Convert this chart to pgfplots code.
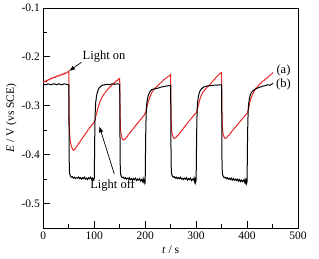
\documentclass[border=0pt]{standalone}
\usepackage{fontspec}
\setmainfont{Liberation Serif}
\usepackage{pgfplots}
\pgfplotsset{compat=1.18}
\usetikzlibrary{arrows.meta}
\definecolor{redc}{RGB}{232,40,40}
\begin{document}
\begin{tikzpicture}
\begin{axis}[
  scale only axis,
  width=254.7pt, height=220pt,
  xmin=0, xmax=500, ymin=-0.55, ymax=-0.1,
  xtick={0,100,200,300,400,500},
  minor xtick={50,150,250,350,450},
  ytick={-0.5,-0.4,-0.3,-0.2,-0.1},
  yticklabels={-0.5,-0.4,-0.3,-0.2,-0.1},
  minor ytick={-0.55,-0.45,-0.35,-0.25,-0.15},
  xtick pos=left, ytick pos=left,
  tick align=inside,
  major tick length=7pt, minor tick length=4pt,
  every tick/.style={black, line width=0.8pt},
  axis line style={line width=0.8pt},
  /pgf/number format/assume math mode=true,
  tick label style={font=\fontsize{11.5}{13}\selectfont},
  label style={font=\fontsize{11.5}{13}\selectfont},
  xlabel={\textit{t} / s},
  ylabel={\textit{E} / V (vs SCE)},
  ylabel style={yshift=-2pt},
  clip=false,
]
% (a) red
\addplot[redc, line width=1pt] coordinates {
(0,-0.252)(2,-0.250)(4,-0.251)(6,-0.248)(8,-0.249)(10,-0.246)(12,-0.247)(14,-0.244)(16,-0.245)(18,-0.242)(20,-0.243)(22,-0.241)(24,-0.242)(26,-0.239)(28,-0.240)(30,-0.238)(32,-0.239)(34,-0.236)(36,-0.237)(38,-0.235)(40,-0.236)(42,-0.233)(44,-0.234)(46,-0.232)(48,-0.231)(50,-0.229)
(50.6,-0.300)(51.2,-0.345)(52,-0.362)(53,-0.372)(55,-0.382)(57,-0.388)(59,-0.391)(61,-0.390)(63,-0.387)(65,-0.384)(67,-0.382)(69,-0.377)(71,-0.376)(73,-0.371)(75,-0.369)(77,-0.366)(79,-0.362)(81,-0.361)(83,-0.356)(85,-0.355)(87,-0.350)(89,-0.349)(91,-0.344)(93,-0.343)(95,-0.339)(97,-0.338)(99,-0.334)(101,-0.331)(103,-0.322)(105,-0.314)(107,-0.305)(109,-0.299)(111,-0.292)(113,-0.288)(115,-0.283)(117,-0.280)(119,-0.276)(121,-0.274)(123,-0.270)(125,-0.269)(127,-0.265)(129,-0.264)(131,-0.261)(133,-0.260)(135,-0.257)(137,-0.256)(139,-0.253)(141,-0.252)(143,-0.249)(145,-0.249)(147,-0.246)(149,-0.244)(150,-0.244)
(150.6,-0.300)(151.2,-0.335)(152,-0.352)(153,-0.360)(155,-0.367)(157,-0.370)(159,-0.369)(161,-0.368)(163,-0.364)(165,-0.363)(167,-0.359)(169,-0.357)(171,-0.354)(173,-0.352)(175,-0.348)(177,-0.347)(179,-0.343)(181,-0.341)(183,-0.338)(185,-0.336)(187,-0.333)(189,-0.331)(191,-0.328)(193,-0.326)(195,-0.323)(197,-0.321)(199,-0.317)(201,-0.313)(203,-0.305)(205,-0.296)(207,-0.289)(209,-0.282)(211,-0.278)(213,-0.273)(215,-0.270)(217,-0.267)(219,-0.265)(221,-0.262)(223,-0.261)(225,-0.258)(227,-0.257)(229,-0.254)(231,-0.253)(233,-0.250)(235,-0.249)(237,-0.246)(239,-0.245)(241,-0.243)(243,-0.242)(245,-0.240)(247,-0.239)(249,-0.237)(250,-0.236)
(250.6,-0.300)(251.2,-0.335)(252,-0.350)(253,-0.358)(255,-0.364)(257,-0.367)(259,-0.366)(261,-0.364)(263,-0.361)(265,-0.360)(267,-0.356)(269,-0.355)(271,-0.351)(273,-0.349)(275,-0.346)(277,-0.344)(279,-0.340)(281,-0.339)(283,-0.335)(285,-0.333)(287,-0.330)(289,-0.328)(291,-0.325)(293,-0.323)(295,-0.320)(297,-0.318)(299,-0.316)(301,-0.313)(303,-0.305)(305,-0.296)(307,-0.288)(309,-0.282)(311,-0.277)(313,-0.273)(315,-0.270)(317,-0.268)(319,-0.265)(321,-0.263)(323,-0.261)(325,-0.259)(327,-0.257)(329,-0.254)(331,-0.252)(333,-0.249)(335,-0.247)(337,-0.245)(339,-0.242)(341,-0.240)(343,-0.238)(345,-0.236)(347,-0.234)(349,-0.232)(350,-0.232)
(350.6,-0.300)(351.2,-0.335)(352,-0.350)(353,-0.358)(355,-0.364)(357,-0.367)(359,-0.366)(361,-0.364)(363,-0.361)(365,-0.360)(367,-0.356)(369,-0.355)(371,-0.351)(373,-0.349)(375,-0.346)(377,-0.344)(379,-0.341)(381,-0.339)(383,-0.336)(385,-0.334)(387,-0.331)(389,-0.329)(391,-0.326)(393,-0.324)(395,-0.321)(397,-0.319)(399,-0.317)(401,-0.314)(403,-0.306)(405,-0.295)(407,-0.287)(409,-0.281)(411,-0.276)(413,-0.272)(415,-0.268)(418,-0.263)(421,-0.261)(424,-0.256)(427,-0.254)(430,-0.250)(433,-0.249)(436,-0.245)(439,-0.244)(442,-0.240)(445,-0.238)(448,-0.235)(451,-0.232)
};
% (b) black
\addplot[black, line width=1pt] coordinates {
(0,-0.257)(3,-0.256)(6,-0.257)(9,-0.255)(12,-0.256)(15,-0.257)(18,-0.256)(21,-0.255)(24,-0.256)(27,-0.257)(30,-0.255)(33,-0.256)(36,-0.257)(39,-0.256)(42,-0.255)(45,-0.256)(48,-0.257)(50,-0.257)
(50.4,-0.33)(50.8,-0.41)(51.3,-0.432)(52,-0.440)(53.5,-0.444)(55,-0.446)(57,-0.445)(59,-0.448)(61,-0.446)(63,-0.449)(65,-0.447)(67,-0.448)(69,-0.446)(71,-0.449)(73,-0.447)(75,-0.450)(77,-0.447)(79,-0.449)(81,-0.446)(83,-0.450)(85,-0.448)(87,-0.451)(89,-0.447)(91,-0.449)(93,-0.446)(95,-0.451)(97,-0.448)(99,-0.452)(100,-0.449)
(100.4,-0.42)(100.9,-0.37)(101.5,-0.33)(102.2,-0.305)(103,-0.292)(104.5,-0.280)(106,-0.273)(108,-0.267)(110,-0.263)(113,-0.260)(116,-0.258)(120,-0.257)(125,-0.256)(130,-0.257)(135,-0.255)(140,-0.256)(145,-0.255)(150,-0.256)
(150.4,-0.33)(150.8,-0.41)(151.3,-0.433)(152,-0.441)(153.5,-0.445)(155,-0.447)(157,-0.446)(159,-0.449)(161,-0.447)(163,-0.450)(165,-0.448)(167,-0.450)(169,-0.447)(171,-0.451)(173,-0.449)(175,-0.452)(177,-0.449)(179,-0.451)(181,-0.448)(183,-0.453)(185,-0.450)(187,-0.452)(189,-0.449)(191,-0.454)(193,-0.451)(195,-0.455)(196,-0.449)(197,-0.454)(198,-0.458)(199,-0.452)(200,-0.455)
(200.4,-0.42)(200.9,-0.37)(201.5,-0.335)(202.2,-0.310)(203,-0.297)(204.5,-0.286)(206,-0.279)(208,-0.274)(210,-0.270)(213,-0.267)(216,-0.266)(220,-0.265)(225,-0.264)(230,-0.262)(235,-0.261)(240,-0.260)(245,-0.259)(250,-0.258)
(250.4,-0.33)(250.8,-0.41)(251.3,-0.432)(252,-0.440)(253.5,-0.444)(255,-0.446)(257,-0.445)(259,-0.448)(261,-0.446)(263,-0.449)(265,-0.447)(267,-0.449)(269,-0.446)(271,-0.450)(273,-0.448)(275,-0.451)(277,-0.448)(279,-0.450)(281,-0.447)(283,-0.452)(285,-0.449)(287,-0.451)(289,-0.448)(291,-0.453)(293,-0.450)(295,-0.452)(296,-0.448)(297,-0.455)(298,-0.451)(299,-0.457)(300,-0.452)
(300.4,-0.42)(300.9,-0.37)(301.5,-0.33)(302.2,-0.305)(303,-0.292)(304.5,-0.281)(306,-0.274)(308,-0.269)(310,-0.266)(313,-0.263)(316,-0.261)(320,-0.260)(325,-0.259)(330,-0.259)(335,-0.258)(340,-0.258)(345,-0.257)(350,-0.257)
(350.4,-0.33)(350.8,-0.41)(351.3,-0.433)(352,-0.441)(353.5,-0.445)(355,-0.447)(357,-0.446)(359,-0.449)(361,-0.447)(363,-0.450)(365,-0.448)(367,-0.451)(369,-0.448)(371,-0.452)(373,-0.449)(375,-0.452)(377,-0.450)(379,-0.453)(381,-0.450)(383,-0.454)(385,-0.451)(387,-0.455)(389,-0.452)(391,-0.455)(393,-0.452)(395,-0.456)(396,-0.451)(397,-0.457)(398,-0.453)(399,-0.459)(400,-0.455)
(400.4,-0.42)(400.9,-0.37)(401.5,-0.335)(402.2,-0.310)(403,-0.297)(404.5,-0.286)(406,-0.279)(408,-0.274)(410,-0.271)(413,-0.268)(416,-0.266)(420,-0.264)(425,-0.262)(430,-0.260)(435,-0.259)(440,-0.257)(445,-0.258)(448,-0.256)(451,-0.254)
};
\node[anchor=west, font=\fontsize{12.5}{14}\selectfont, inner sep=0pt] at (axis cs:77,-0.199) {Light on};
\draw[-{Latex[length=6pt,width=4.5pt]}, line width=0.7pt] (axis cs:75,-0.211) -- (axis cs:50.5,-0.229);
\node[font=\fontsize{12.5}{14}\selectfont, inner sep=0pt] at (axis cs:136,-0.463) {Light off};
\draw[-{Latex[length=6pt,width=4.5pt]}, line width=0.7pt] (axis cs:139.5,-0.440) -- (axis cs:110,-0.342);
\node[font=\fontsize{12.5}{14}\selectfont, inner sep=0pt] at (axis cs:471.5,-0.227) {(a)};
\node[font=\fontsize{12.5}{14}\selectfont, inner sep=0pt] at (axis cs:471.5,-0.257) {(b)};
\end{axis}
\pgfresetboundingbox
\path[use as bounding box] (current axis.south west) ++(-43.3pt,-30pt) rectangle ++(319pt,258pt);
\end{tikzpicture}
\end{document}
